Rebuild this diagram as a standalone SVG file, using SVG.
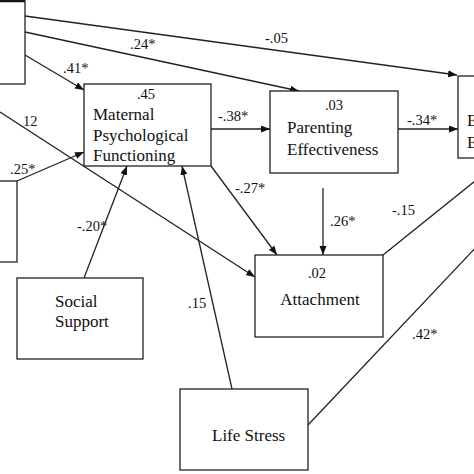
<svg xmlns="http://www.w3.org/2000/svg" width="474" height="474" viewBox="0 0 474 474">
<style>
.box{fill:#fff;stroke:#222;stroke-width:1.3}
.t{font-family:"Liberation Serif","Times New Roman",serif;font-size:17px;fill:#111}
.n{font-family:"Liberation Serif","Times New Roman",serif;font-size:14.5px;fill:#111}
.c{fill:none;stroke:#222;stroke-width:1.3}
.a{marker-end:url(#ah)}
</style>
<defs>
<marker id="ah" markerUnits="userSpaceOnUse" markerWidth="10" markerHeight="8" refX="9" refY="3.5" orient="auto">
<path d="M0,0 L9,3.5 L0,7 z" fill="#111"/>
</marker>
</defs>
<rect width="474" height="474" fill="#fff"/>
<g id="connectors">
<line class="c a" x1="25" y1="16" x2="457" y2="75"/>
<line class="c a" x1="25" y1="32" x2="299" y2="91"/>
<line class="c a" x1="25" y1="55" x2="84" y2="90"/>
<line class="c a" x1="17" y1="181" x2="84" y2="152"/>
<line class="c a" x1="0" y1="112" x2="255" y2="277"/>
<line class="c a" x1="84" y1="278" x2="127" y2="166"/>
<line class="c a" x1="232" y1="389" x2="182" y2="166"/>
<line class="c a" x1="211" y1="129" x2="270" y2="129"/>
<line class="c a" x1="398" y1="129" x2="458" y2="129"/>
<line class="c a" x1="323" y1="188" x2="323" y2="255"/>
<line class="c a" x1="211" y1="166" x2="277" y2="255"/>
<line class="c" x1="383" y1="255" x2="480" y2="177"/>
<line class="c" x1="308" y1="425" x2="480" y2="243"/>
<text class="n" x="265" y="43">-.05</text>
<text class="n" x="130" y="49">.24*</text>
<text class="n" x="63" y="73">.41*</text>
<text class="n" x="23" y="126">12</text>
<text class="n" x="10" y="174">.25*</text>
<text class="n" x="218" y="121">-.38*</text>
<text class="n" x="407" y="125">-.34*</text>
<text class="n" x="235" y="193">-.27*</text>
<text class="n" x="330" y="226">.26*</text>
<text class="n" x="392" y="215">-.15</text>
<text class="n" x="77" y="231">-.20*</text>
<text class="n" x="188" y="308">.15</text>
<text class="n" x="412" y="339">.42*</text>
</g>
<g id="node-topleft">
<rect class="box" x="-10" y="1" width="35" height="83"/>
<line x1="0" y1="1" x2="25" y2="1" stroke="#111" stroke-width="2.5"/>
</g>
<g id="node-midleft">
<rect class="box" x="-10" y="181" width="27" height="81"/>
</g>
<g id="node-maternal">
<rect class="box" x="84" y="84" width="127" height="82"/>
<text class="n" x="146" y="99" text-anchor="middle">.45</text>
<text class="t" x="93" y="120">Maternal</text>
<text class="t" x="93" y="141">Psychological</text>
<text class="t" x="93" y="161">Functioning</text>
</g>
<g id="node-parenting">
<rect class="box" x="270" y="91" width="128" height="82"/>
<text class="n" x="334" y="110" text-anchor="middle">.03</text>
<text class="t" x="287" y="133">Parenting</text>
<text class="t" x="287" y="155">Effectiveness</text>
</g>
<g id="node-e">
<rect class="box" x="458" y="76" width="30" height="82"/>
<text class="t" x="467" y="126">E</text>
<text class="t" x="467" y="148">E</text>
</g>
<g id="node-attachment">
<rect class="box" x="255" y="255" width="128" height="82"/>
<text class="n" x="317" y="278" text-anchor="middle">.02</text>
<text class="t" x="320" y="305" text-anchor="middle">Attachment</text>
</g>
<g id="node-social">
<rect class="box" x="17" y="278" width="126" height="81"/>
<text class="t" x="55" y="307">Social</text>
<text class="t" x="55" y="327">Support</text>
</g>
<g id="node-lifestress">
<rect class="box" x="180" y="389" width="128" height="81"/>
<text class="t" x="212" y="441">Life Stress</text>
</g>
</svg>
